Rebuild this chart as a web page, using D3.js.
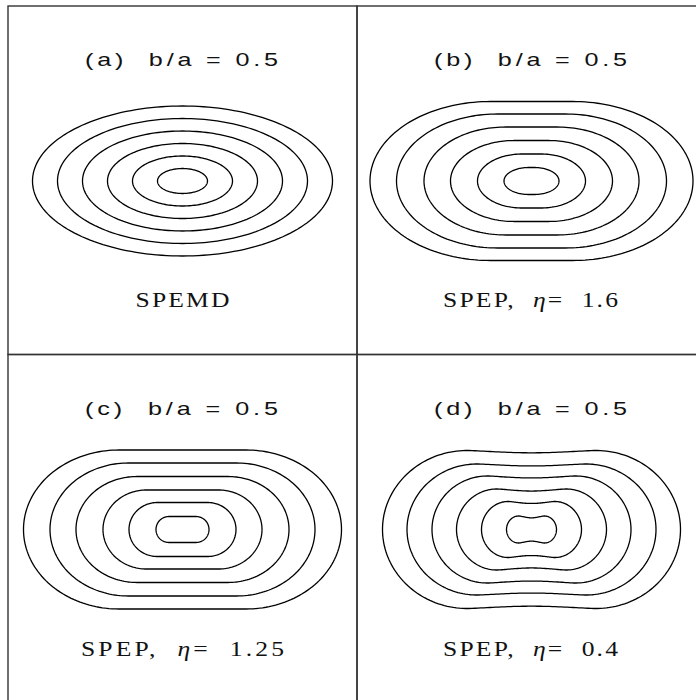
<!DOCTYPE html>
<html lang="en">
<head>
<meta charset="UTF-8">
<title>SPEMD / SPEP contours</title>
<script src="https://cdn.jsdelivr.net/npm/d3@7"></script>
<style>
  body { margin: 0; background: #fff; }
  .frame { fill: none; stroke: #333; stroke-width: 1.4px; }
  .contour { fill: none; stroke: #000; stroke-width: 1.3px; }
  .title { font-family: 'Liberation Sans', sans-serif; font-size: 18px; fill: #111; white-space: pre; }
  .label { font-family: 'Liberation Serif', serif; font-size: 21px; fill: #111; white-space: pre; }
</style>
</head>
<body>
<svg id="chart" width="696" height="700"></svg>
<script>
// panel text
const panelLetters = ['a', 'b', 'c', 'd'];
const axisRatios = ['0.5', '0.5', '0.5', '0.5'];
const modelNames = ['SPEMD', 'SPEP', 'SPEP', 'SPEP'];
const etaValues = [null, '1.6', '1.25', '0.4'];

// contour semi-major axes (model units), inner -> outer
const semiMajorA = [0.50, 1.00, 1.50, 2.00, 2.50, 3.00];
const semiMajorB = [0.55, 1.08, 1.62, 2.15, 2.70, 3.23];
const semiMajorC = [0.53, 1.07, 1.59, 2.13, 2.65, 3.18];
const semiMajorD = [0.50, 1.00, 1.50, 1.99, 2.49, 2.98];

// contour semi-minor axes (model units)
const semiMinorA = [0.25, 0.50, 0.75, 1.00, 1.25, 1.50];
const semiMinorB = [0.27, 0.54, 0.81, 1.08, 1.34, 1.59];
const semiMinorC = [0.26, 0.54, 0.79, 1.06, 1.33, 1.59];
const semiMinorD = [0.27, 0.56, 0.81, 1.07, 1.31, 1.58];

// flatness of each contour: 0 = ellipse, 1 = stadium with round ends
const flatA = [0, 0, 0, 0, 0, 0];
const flatB = [0.20, 0.35, 0.42, 0.48, 0.50, 0.50];
const flatC = [1.00, 0.95, 0.90, 0.85, 0.82, 0.80];
const flatD = [0.95, 0.92, 0.90, 0.88, 0.86, 0.85];

// waist: height on the minor axis / largest height (1 = no waist)
const waistA = [1, 1, 1, 1, 1, 1];
const waistB = [1, 1, 1, 1, 1, 1];
const waistC = [1, 1, 1, 1, 1, 1];
const waistD = [0.81, 0.89, 0.92, 0.94, 0.95, 0.95];

const panels = [
  { major: semiMajorA, minor: semiMinorA, flat: flatA, waist: waistA },
  { major: semiMajorB, minor: semiMinorB, flat: flatB, waist: waistB },
  { major: semiMajorC, minor: semiMinorC, flat: flatC, waist: waistC },
  { major: semiMajorD, minor: semiMinorD, flat: flatD, waist: waistD }
];

const svg = d3.select('#chart');
const offX = 8, offY = 6, pw = 349, ph = 348.5;
const labelWidths = [94, 175, 203, 175];
const waistWidth = 0.45;
const titleStretch = 1.4, labelStretch = 1.22;

const line = d3.line().curve(d3.curveLinearClosed);

// one closed contour in model units: flat top/bottom with elliptic ends
function contour(a, b, s, w) {
  const L = s * Math.max(a - b, 0);
  const ae = a - L;
  const pts = [];
  d3.range(-90, 90, 2).forEach(t => {
    const r = t * Math.PI / 180;
    pts.push([L + ae * Math.cos(r), b * Math.sin(r)]);
  });
  if (L > 0) d3.range(40).forEach(i => pts.push([L - 2 * L * i / 40, b]));
  d3.range(90, 270, 2).forEach(t => {
    const r = t * Math.PI / 180;
    pts.push([-L + ae * Math.cos(r), b * Math.sin(r)]);
  });
  if (L > 0) d3.range(40).forEach(i => pts.push([-L + 2 * L * i / 40, -b]));
  const raw = pts.map(p => {
    const u = p[0] / (a * waistWidth);
    return [p[0], p[1] * (1 - (1 - w) * Math.exp(-u * u))];
  });
  const ymax = d3.max(raw, p => Math.abs(p[1]));
  return raw.map(p => [p[0], p[1] * b / ymax]);
}

panels.forEach((p, k) => {
  const px = offX + (k % 2) * pw;
  const py = offY + Math.floor(k / 2) * ph;
  const g = svg.append('g').attr('transform', `translate(${px},${py})`);

  const x = d3.scaleLinear().domain([-3.49, 3.49]).range([0, pw]);
  const y = d3.scaleLinear().domain([3.5, -3.47]).range([0, ph]);

  g.append('rect').attr('class', 'frame')
    .attr('x', 0).attr('y', 0).attr('width', pw).attr('height', ph);

  g.selectAll('path.contour')
    .data(p.major.map((a, i) => contour(a, p.minor[i], p.flat[i], p.waist[i])))
    .join('path')
    .attr('class', 'contour')
    .attr('d', d => line(d.map(q => [x(q[0]), y(q[1])])));

  g.append('g').attr('transform', `translate(77,60) scale(${titleStretch},1)`)
    .append('text').attr('class', 'title')
    .attr('textLength', 193 / titleStretch).attr('lengthAdjust', 'spacing')
    .text(`(${panelLetters[k]})  b/a = ${axisRatios[k]}`);

  const lab = g.append('g')
    .attr('transform', `translate(${pw / 2 + (k % 2 ? -1 : 0)},301) scale(${labelStretch},1)`)
    .append('text').attr('class', 'label').attr('text-anchor', 'middle')
    .attr('textLength', labelWidths[k] / labelStretch).attr('lengthAdjust', 'spacing');
  if (etaValues[k] === null) {
    lab.text(modelNames[k]);
  } else {
    lab.append('tspan').text(modelNames[k] + ',  ');
    lab.append('tspan').style('font-style', 'italic').text('η');
    lab.append('tspan').text('=  ' + etaValues[k]);
  }
});
</script>
</body>
</html>
